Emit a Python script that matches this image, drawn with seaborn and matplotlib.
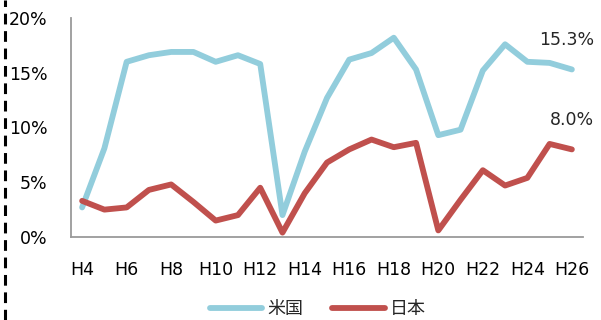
import matplotlib
matplotlib.use("Agg")
import matplotlib.pyplot as plt
from matplotlib.lines import Line2D
import pandas as pd
import seaborn as sns

years = ["H4", "H5", "H6", "H7", "H8", "H9", "H10", "H11", "H12", "H13", "H14", "H15",
         "H16", "H17", "H18", "H19", "H20", "H21", "H22", "H23", "H24", "H25", "H26"]
us = [2.7, 8.1, 16.0, 16.6, 16.9, 16.9, 16.0, 16.6, 15.8, 2.0, 7.8, 12.7,
      16.2, 16.8, 18.2, 15.3, 9.3, 9.8, 15.2, 17.6, 16.0, 15.9, 15.3]
japan = [3.3, 2.5, 2.7, 4.3, 4.8, 3.2, 1.5, 2.0, 4.5, 0.4, 4.0, 6.8,
         8.0, 8.9, 8.2, 8.6, 0.6, 3.4, 6.1, 4.7, 5.4, 8.5, 8.0]
series_names = ["米国", "日本"]
palette = ["#92CDDC", "#C0504D"]
ytick_vals = [0, 5, 10, 15, 20]

sns.set_style("white")
plt.rcParams["font.family"] = ["DejaVu Sans", "Noto Sans CJK JP"]

df = pd.DataFrame({
    "year": years * 2,
    "value": us + japan,
    "series": [series_names[0]] * len(years) + [series_names[1]] * len(years),
})

fig = plt.figure(figsize=(6.01, 3.2), dpi=100)
ax = fig.add_axes([71 / 601, 83 / 320, (583 - 71) / 601, (237 - 18) / 320])

sns.lineplot(data=df, x="year", y="value", hue="series", palette=palette,
             linewidth=4.2, sort=False, ax=ax, legend=False)
for ln in ax.lines:
    ln.set_solid_capstyle("round")
    ln.set_solid_joinstyle("round")

ax.set_xlim(-0.5, len(years) - 0.5)
ax.set_ylim(0, 20)
ax.set_xticks(range(0, len(years), 2))
ax.set_xticklabels(years[::2])
ax.set_yticks(ytick_vals)
ax.set_yticklabels([f"{v}%" for v in ytick_vals])
ax.set_xlabel("")
ax.set_ylabel("")
ax.tick_params(axis="both", length=0, labelsize=12.5, colors="#000000")
ax.tick_params(axis="x", pad=17)
ax.tick_params(axis="y", pad=17)

for side in ["top", "right"]:
    ax.spines[side].set_visible(False)
for side in ["left", "bottom"]:
    ax.spines[side].set_color("#9A9A9A")
    ax.spines[side].set_linewidth(1.3)

# end-value labels
ax.text(len(years) - 1.25, us[-1] + 1.9, f"{us[-1]:.1f}%", ha="center", va="bottom", fontsize=12.5)
ax.text(len(years) - 1.0, japan[-1] + 1.9, f"{japan[-1]:.1f}%", ha="center", va="bottom", fontsize=12.5)

# legend below the plot
handles = [Line2D([0], [0], color=c, linewidth=4.2, solid_capstyle="round") for c in palette]
fig.legend(handles, series_names, loc="center", bbox_to_anchor=(318 / 601, 1 - 309 / 320),
           ncol=2, frameon=False, handlelength=2.9, handletextpad=0.3, columnspacing=1.6,
           prop={"family": ["Noto Sans CJK JP", "DejaVu Sans"], "size": 13})

# dashed separator on the left edge
fig.add_artist(Line2D([5 / 601, 5 / 601], [0, 1], transform=fig.transFigure,
                      color="black", linewidth=2.2, linestyle=(0, (3.5, 2.2))))

fig.savefig("out.png", dpi=100)
